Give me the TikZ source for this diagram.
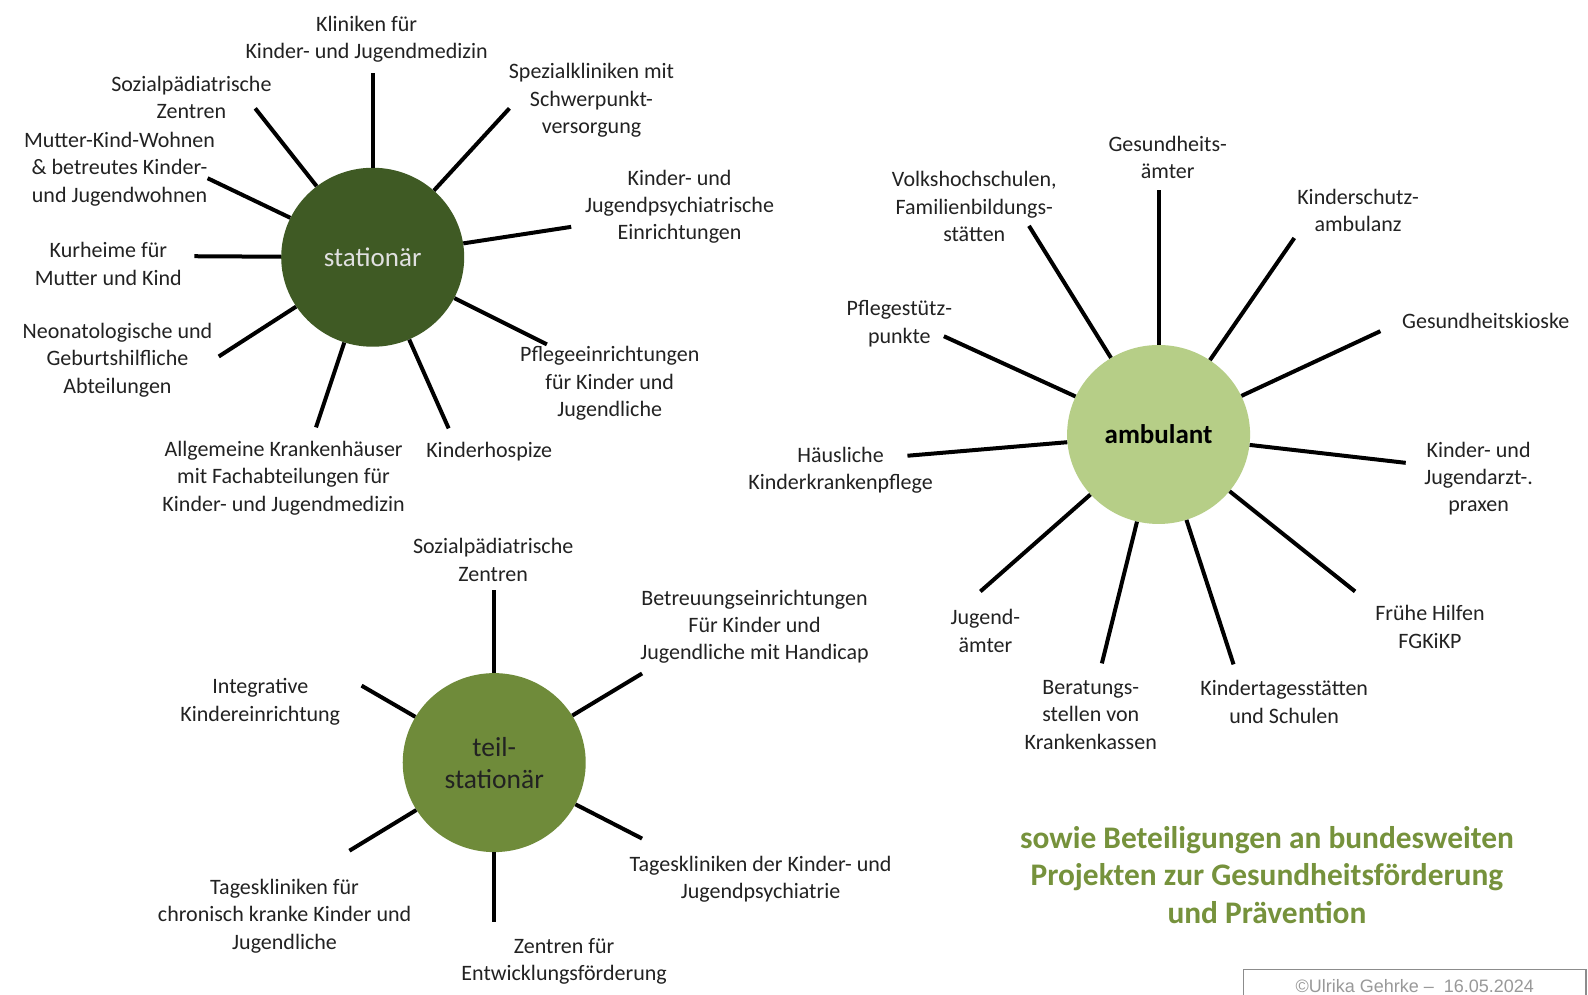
\documentclass[tikz,border=0pt]{standalone}
\usepackage{fontspec}
\setmainfont{Carlito}
\newfontfamily\arialf{Liberation Sans}
\usetikzlibrary{shapes.geometric}
\definecolor{dgreen}{HTML}{3F5A24}
\definecolor{lgreen}{HTML}{B6CE87}
\definecolor{mgreen}{HTML}{6F8B3A}
\definecolor{ogreen}{HTML}{76923C}
\definecolor{txt}{HTML}{222222}
\definecolor{boxgray}{HTML}{8C8C8C}
\begin{document}
\begin{tikzpicture}[x=1.0128pt,y=-1.0128pt,
  lbl/.style={align=center,font=\fontsize{22}{27.3}\selectfont,text=txt,inner sep=0pt},
  hub/.style={ellipse,minimum width=183pt,minimum height=179pt,inner sep=0pt},
  spoke/.style={line width=4pt,black}]
\useasboundingbox[fill=white] (0,0) rectangle (1568,982.4);

% ---------------- stationaer ----------------
\node[hub,fill=dgreen,text=white!88!black,font=\fontsize{27}{32}\selectfont] (st) at (368,254) {stationär};
\coordinate (s1) at (368,72);
\coordinate (s2) at (503,107);
\coordinate (s3) at (564,224);
\coordinate (s4) at (540,340);
\coordinate (s5) at (443,423);
\coordinate (s6) at (312,422);
\coordinate (s7) at (216,352);
\coordinate (s8) at (192,253);
\coordinate (s9) at (205,176);
\coordinate (s10) at (252,107);
\foreach \i in {1,...,10}{\draw[spoke] (st) -- (s\i);}

\node[lbl] (ls1) at (362,38.5) {Kliniken für\\Kinder- und Jugendmedizin};
\node[lbl] (ls2) at (584,99) {Spezialkliniken mit\\Schwerpunkt-\\versorgung};
\node[lbl] (ls3) at (671,204) {Kinder- und\\Jugendpsychiatrische\\Einrichtungen};
\node[lbl] (ls4) at (602,378.5) {Pflegeeinrichtungen\\für Kinder und\\Jugendliche};
\node[lbl] (ls5) at (483,446) {Kinderhospize};
\node[lbl] (ls6) at (280,472) {Allgemeine Krankenhäuser\\mit Fachabteilungen für\\Kinder- und Jugendmedizin};
\node[lbl] (ls7) at (116,355.5) {Neonatologische und\\Geburtshilfliche\\Abteilungen};
\node[lbl] (ls8) at (107,260.5) {Kurheime für\\Mutter und Kind};
\node[lbl] (ls9) at (118,167) {Mutter-Kind-Wohnen\\\& betreutes Kinder-\\und Jugendwohnen};
\node[lbl] (ls10) at (189,96.5) {Sozialpädiatrische\\Zentren};

% ---------------- ambulant ----------------
\node[hub,fill=lgreen,text=black,font=\fontsize{27}{32}\selectfont\bfseries] (am) at (1144,429) {ambulant};
\coordinate (a1) at (1144,188);
\coordinate (a2) at (1278,235);
\coordinate (a3) at (1363,327);
\coordinate (a4) at (1388,457);
\coordinate (a5) at (1338,584);
\coordinate (a6) at (1218,656);
\coordinate (a7) at (1088,655);
\coordinate (a8) at (968,584);
\coordinate (a9) at (896,450);
\coordinate (a10) at (932,332);
\coordinate (a11) at (1016,223);
\foreach \i in {1,...,11}{\draw[spoke] (am) -- (a\i);}

\node[lbl] (la1) at (1153,155.5) {Gesundheits-\\ämter};
\node[lbl] (la2) at (1341,207.5) {Kinderschutz-\\ambulanz};
\node[lbl] (la3) at (1467,317) {Gesundheitskioske};
\node[lbl] (la4) at (1460,472.5) {Kinder- und\\Jugendarzt-.\\praxen};
\node[lbl] (la5) at (1412,619) {Frühe Hilfen\\FGKiKP};
\node[lbl] (la6) at (1268,693) {Kindertagesstätten\\und Schulen};
\node[lbl] (la7) at (1077,706) {Beratungs-\\stellen von\\Krankenkassen};
\node[lbl] (la8) at (973,623) {Jugend-\\ämter};
\node[lbl] (la9) at (830,464.5) {Häusliche\\Kinderkrankenpflege};
\node[lbl] (la10) at (888,319.5) {Pflegestütz-\\punkte};
\node[lbl] (la11) at (962,204) {Volkshochschulen,\\Familienbildungs-\\stätten};

% ---------------- teilstationaer ----------------
\node[hub,fill=mgreen,text=txt,align=center,font=\fontsize{27.5}{32}\selectfont] (ts) at (488,753) {teil-\\stationär};
\coordinate (t1) at (488,583);
\coordinate (t2) at (634,665);
\coordinate (t3) at (634,828);
\coordinate (t4) at (488,910);
\coordinate (t5) at (345,840);
\coordinate (t6) at (357,677);
\foreach \i in {1,...,6}{\draw[spoke] (ts) -- (t\i);}

\node[lbl] (lt1) at (487,553) {Sozialpädiatrische\\Zentren};
\node[lbl] (lt2) at (745,619) {Betreuungseinrichtungen\\Für Kinder und\\Jugendliche mit Handicap};
\node[lbl] (lt3) at (751,868) {Tageskliniken der Kinder- und\\Jugendpsychiatrie};
\node[lbl] (lt4) at (557,949.5) {Zentren für\\Entwicklungsförderung};
\node[lbl] (lt5) at (281,904.5) {Tageskliniken für\\chronisch kranke Kinder und\\Jugendliche};
\node[lbl] (lt6) at (257,693) {Integrative\\Kindereinrichtung};

% ---------------- footer ----------------
\node[align=center,inner sep=0pt,text=ogreen,font=\fontsize{31.4}{37.5}\selectfont\bfseries] (note) at (1251,864)
  {sowie Beteiligungen an bundesweiten\\Projekten zur Gesundheitsförderung\\und Prävention};
\draw[boxgray,line width=1.5pt] (1228,995) -- (1228,957.5) -- (1566,957.5) -- (1566,995);
\node[inner sep=0pt,text=black!40,font=\arialf\fontsize{18}{21}\selectfont] (copy) at (1397,974) {©Ulrika Gehrke –\ \ 16.05.2024};
\end{tikzpicture}
\end{document}
